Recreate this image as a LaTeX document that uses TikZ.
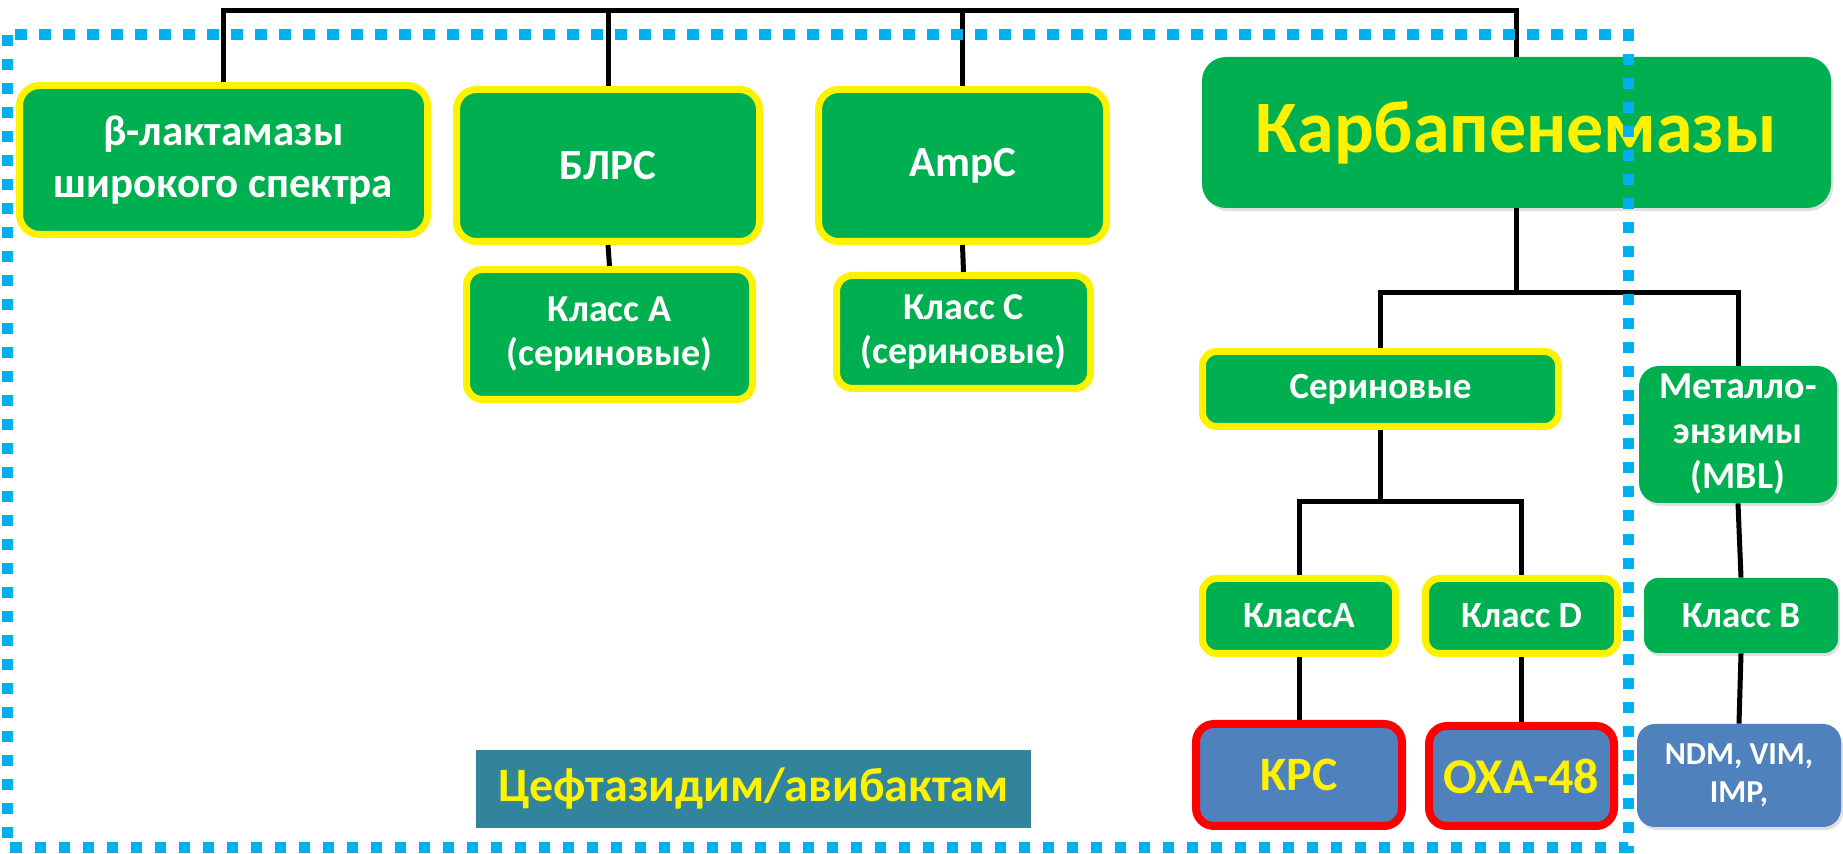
\documentclass[tikz,border=0pt]{standalone}
\usepackage{fontspec}
\setmainfont{Carlito}
\usetikzlibrary{positioning,shadows}

\definecolor{boxgreen}{HTML}{00B050}
\definecolor{boxblue}{HTML}{4F81BD}
\definecolor{frameblue}{HTML}{00B0F0}
\definecolor{drugteal}{HTML}{31849B}

\begin{document}
\begin{tikzpicture}[
  x=0.5pt,y=-0.5pt,
  fs/.style 2 args={font=\bfseries\fontsize{#1}{#2}\selectfont},
  family/.style={fill=boxgreen,rounded corners=10pt,text=white,align=center,inner sep=2pt,
    drop shadow={opacity=.25,shadow xshift=1pt,shadow yshift=-1.5pt}},
  enzyme/.style={family,draw=yellow,line width=3.5pt},
  gene/.style={family,fill=boxblue,rounded corners=9pt},
  target/.style={gene,draw=red,line width=4pt,text=yellow},
  link/.style={draw=black,line width=2.5pt},
  frame/.style={draw=frameblue,line width=5.5pt,dash pattern=on 5.75pt off 6.25pt}
]
  \useasboundingbox (0,0) rectangle (1843,854);

  % upper row
  \node[enzyme,minimum width=204pt,minimum height=74.5pt,fs={21.5}{26}] (beta) at (223.5,160) {β-лактамазы\\широкого спектра};
  \node[enzyme,minimum width=151.5pt,minimum height=76pt,fs={21.5}{26}] (blrs) at (608,165.5) {БЛРС};
  \node[enzyme,minimum width=144pt,minimum height=76pt,fs={21.5}{26}] (ampc) at (962.5,165.5) {AmpC};
  \node[family,minimum width=314.5pt,minimum height=75.5pt,rounded corners=12pt,text=yellow,fs={37}{44}] (carba) at (1516.5,132.5) {Карбапенемазы};

  \node[enzyme,minimum width=143pt,minimum height=65pt,rounded corners=8pt,fs={19}{22}] (clsA) at (609.5,334.5) {Класс A\\(сериновые)};
  \node[enzyme,minimum width=127pt,minimum height=56.5pt,rounded corners=8pt,fs={19}{22}] (clsC) at (963.5,332) {Класс C\\(сериновые)};

  % carbapenemases
  \node[enzyme,minimum width=178pt,minimum height=37.5pt,rounded corners=7pt,fs={18.5}{22}] (serine) at (1380.5,389) {Сериновые};
  \node[family,minimum width=99pt,minimum height=68.5pt,fs={19}{22.5}] (metallo) at (1738,434.5) {Металло-\\энзимы\\(MBL)};

  \node[enzyme,minimum width=96.5pt,minimum height=37.5pt,rounded corners=7pt,fs={18.5}{22}] (serA) at (1299,616) {КлассA};
  \node[enzyme,minimum width=96pt,minimum height=37.5pt,rounded corners=7pt,fs={18.5}{22}] (serD) at (1521.5,616) {Класс D};
  \node[family,minimum width=97pt,minimum height=37.5pt,rounded corners=7pt,fs={18.5}{22}] (metB) at (1741,615.5) {Класс B};

  \node[target,minimum width=103pt,minimum height=51pt,fs={24}{28}] (kpc) at (1299,775) {KPC};
  \node[target,minimum width=92.5pt,minimum height=50pt,fs={25}{28}] (oxa) at (1521.5,776) {OXA-48};
  \node[gene,minimum width=102pt,minimum height=51.5pt,fs={16}{19}] (ndm) at (1739,775.5) {NDM, VIM,\\IMP,};

  \node[fill=drugteal,text=yellow,minimum width=277.5pt,minimum height=39pt,inner sep=0pt,fs={24}{28}] (ceft) at (753.5,789) {Цефтазидим/авибактам};

  % tree
  \coordinate (topbus) at (900,11);
  \draw[link] (beta.north) |- (topbus) -| (carba.north);
  \draw[link] (blrs.north) -- (blrs.north |- topbus);
  \draw[link] (ampc.north) -- (ampc.north |- topbus);
  \draw[link] (blrs.south) -- (clsA.north);
  \draw[link] (ampc.south) -- (clsC.north);

  \coordinate (carbus) at (1516,293);
  \draw[link] (carba.south) -- (carba.south |- carbus);
  \draw[link] (serine.north) |- (carbus) -| (metallo.north);

  \coordinate (serbus) at (1400,502);
  \draw[link] (serine.south) -- (serine.south |- serbus);
  \draw[link] (serA.north) |- (serbus) -| (serD.north);
  \draw[link] (metallo.south) -- (metB.north);

  \draw[link] (serA.south) -- (kpc.north);
  \draw[link] (serD.south) -- (oxa.north);
  \draw[link] (metB.south) -- (ndm.north);

  % dotted frame
  \draw[frame] (7.5,35) rectangle (1628,848);
\end{tikzpicture}
\end{document}
